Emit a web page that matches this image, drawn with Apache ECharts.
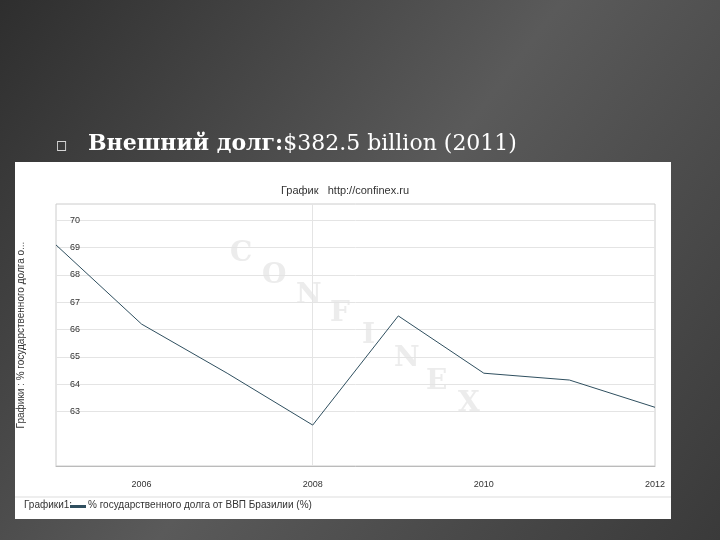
<!DOCTYPE html>
<html><head><meta charset="utf-8">
<script src="https://cdn.jsdelivr.net/npm/echarts@6/dist/echarts.min.js"></script>
<style>html,body{margin:0;padding:0;}#c{width:720px;height:540px;}</style>
</head><body><div id="c"></div>
<script>
const years = [2005, 2006, 2007, 2008, 2009, 2010, 2011, 2012];
const debtPct = [69.1, 66.2, 64.4, 62.5, 66.5, 64.4, 64.15, 63.15];
const yTicks = [63, 64, 65, 66, 67, 68, 69, 70];
const xTicks = [2006, 2008, 2010, 2012];
const watermark = ['C','O','N','F','I','N','E','X'];

const chart = echarts.init(document.getElementById('c'));
const wmPos = [[230,240],[262,262],[296,282],[330,300],[362,322],[394,345],[426,368],[458,390]];
chart.setOption({
  backgroundColor: {type:'linear',x:0,y:0,x2:1,y2:1,colorStops:[{offset:0,color:'#2e2e2e'},{offset:0.5,color:'#5a5a5a'},{offset:1,color:'#3a3a3a'}]},
  graphic: [
    {type:'rect', shape:{x:15,y:162,width:656,height:357}, style:{fill:'#fff'}, z:-10},
    {type:'line', shape:{x1:15,y1:497,x2:671,y2:497}, style:{stroke:'#ddd',lineWidth:1}},
    {type:'text', left:56, top:140, style:{text:'\u25A1', fill:'#fff', font:'12px DejaVu Sans'}},
    {type:'text', left:88, top:133, style:{rich:{b:{font:'bold 22px "DejaVu Serif"',fill:'#fff'},n:{font:'22px "DejaVu Serif"',fill:'#fff'}}, text:'{b|Внешний долг:}{n|$382.5 billion (2011)}'}},
    {type:'text', left:24, top:500, style:{text:'Графики1:', fill:'#333', font:'10px "Liberation Sans Narrow", sans-serif'}},
    {type:'rect', shape:{x:70,y:505,width:16,height:3}, style:{fill:'#2f4f5f'}},
    {type:'text', left:88, top:500, style:{text:'% государственного долга от ВВП Бразилии (%)', fill:'#333', font:'10px "Liberation Sans Narrow", sans-serif'}},
    ...watermark.map((ch,i)=>({type:'text', x:wmPos[i][0], y:wmPos[i][1], z:-1, style:{text:ch, fill:'#ececec', font:'bold 28px "DejaVu Serif"'}}))
  ],
  title: {text:'График   http://confinex.ru', left:340, top:180, textAlign:'center',
    textStyle:{fontSize:11, fontWeight:'normal', color:'#333', fontFamily:'"Liberation Sans Narrow", sans-serif'}},
  grid: {left:56, right:65, top:204, bottom:74, show:true, borderColor:'#ccc', backgroundColor:'transparent'},
  xAxis: {type:'value', min:2005, max:2012, interval:1,
    axisLine:{show:true, lineStyle:{color:'#bbb'}}, axisTick:{show:false},
    axisLabel:{margin:14, fontSize:9, color:'#333', fontFamily:'"Liberation Sans Narrow", sans-serif',
      formatter:v=>xTicks.includes(v)?String(v):''},
    splitLine:{show:false}},
  yAxis: {type:'value', min:61, max:70.6, interval:1,
    name:'Графики : % государственного долга о...', nameLocation:'middle', nameGap:30,
    nameTextStyle:{fontSize:10, color:'#333', fontFamily:'"Liberation Sans Narrow", sans-serif'},
    axisLine:{show:false}, axisTick:{show:false},
    axisLabel:{fontSize:9, color:'#333', margin:-14, align:'left', fontFamily:'"Liberation Sans Narrow", sans-serif',
      formatter:v=>yTicks.includes(v)?String(v):''},
    splitLine:{show:false}},
  series: [{type:'line', data:years.map((y,i)=>[y,debtPct[i]]), symbol:'none', z:3,
    lineStyle:{color:'#2f4f5f', width:1},
    markLine:{silent:true, symbol:'none', label:{show:false}, lineStyle:{color:'#e4e4e4', width:1, type:'solid'}, z:0,
      data:[...yTicks.map(v=>({yAxis:v})), {xAxis:2008}]}}]
});
</script></body></html>
